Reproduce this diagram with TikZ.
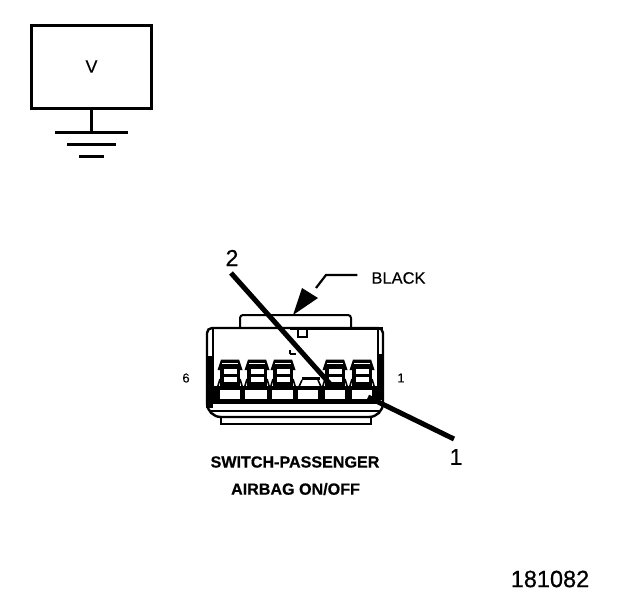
\documentclass[tikz,border=0pt]{standalone}
\usepackage{fontspec}
\setmainfont{Liberation Sans}[FakeBold=0.6]
\newfontfamily\plainbold{Liberation Sans}[FakeBold=0.25]
\newcommand{\fs}[1]{\fontsize{#1}{#1}\selectfont}
\tikzset{
  px/.style={x=1pt,y=-1pt},
  lbl/.style={inner sep=0pt,outer sep=0pt,anchor=center},
  thin line/.style={line width=2pt,line join=miter},
  med line/.style={line width=2.4pt},
  leader/.style={line width=5pt},
}
\begin{document}
\begin{tikzpicture}[px]
\useasboundingbox[fill=white] (0,0) rectangle (624,600);
% voltmeter box with ground
\node[draw,line width=3pt,minimum width=120pt,minimum height=83pt,inner sep=0pt,font=\plainbold\fs{18}] (vbox) at (91.5,66.5) {V};
\coordinate (g1) at (91.5,132.5);
\draw[line width=2.8pt] (vbox.south) -- (g1);
\draw[line width=2.4pt] (55,132.5) -- (128,132.5);
\draw[line width=2.4pt] (67,144.5) -- (116,144.5);
\draw[line width=2.4pt] (79,156.5) -- (104,156.5);
% connector: top tab
\draw[thin line,rounded corners=3pt] (240,328) -- (240,315) -- (351,315) -- (351,328);
% connector: lower tab
\draw[thin line] (221,417) -- (221,423.5) -- (371,423.5) -- (371,417);
% connector: body
\draw[med line,rounded corners=5pt] (207,370) -- (207,328) -- (383,328) -- (383,370);
\draw[med line,rounded corners=14pt] (207,370) -- (207,417) -- (383,417) -- (383,370);
\draw[line width=2pt] (213,329) -- (213,404);
\draw[line width=2pt] (378,329) -- (378,404);
\draw[line width=2pt] (210,410.5) -- (380,410.5);
\fill (205.5,356) rectangle (213,408);
\fill (378,354) rectangle (384,400);
\fill (290,326.5) rectangle (383,330);
% pin window
\draw[line width=2.2pt] (298,329) -- (298,337) -- (307,337) -- (307,329);
% upper contacts
\foreach \c in {230,257,283,335,362}{
  \fill (\c-12.5,370) -- (\c-9,359.5) -- (\c+9,359.5) -- (\c+12.5,370) -- cycle;
  \fill[white] (\c-8,362.5) rectangle (\c+8,365);
  \fill (\c-10,364) rectangle (\c+10,387);
  \fill[white] (\c-6.5,368.5) rectangle (\c+6.5,373.5);
  \fill[white] (\c-6.5,377) rectangle (\c+6.5,381.5);
  \draw[line width=1.6pt] (\c-13,389) -- (\c-10,379);
  \draw[line width=1.6pt] (\c+13,389) -- (\c+10,379);
}
% partial middle contact
\fill (302,376.5) rectangle (320,380);
\draw[line width=2pt] (290,354) -- (296,354) (290,354) -- (290,350);
\draw[line width=1.6pt] (298,389) -- (302,380);
\draw[line width=1.6pt] (322,389) -- (318,380);
% lower row
\fill (208,386) rectangle (378,403.5);
\foreach \a/\b in {220/240,245/267,272/293,298/318,325/345,352/372}{
  \fill[white] (\a,389.5) rectangle (\b,398.5);
}
% BLACK callout
\node[lbl,font=\plainbold\fs{16.5}] (black) at (398.5,278) {BLACK};
\coordinate (bk1) at (326,275);
\coordinate (bk2) at (316,288);
\coordinate (bktip) at (293,315);
\draw[line width=2.2pt] (black.west) ++(-14,-3) -- (bk1) -- (bk2);
\fill (bktip) -- (302,288) -- (318,298) -- cycle;
% numbered leaders
\node[lbl,font=\fs{23}] (n2) at (232,258) {2};
\node[lbl,font=\fs{23}] (n1) at (456,457) {1};
\coordinate (e2) at (331,385);
\coordinate (e1) at (368,397);
\draw[leader] (231,273) -- (e2);
\draw[leader] (454,439) -- (e1);
% pin numbers
\node[lbl,font=\plainbold\fs{13}] (p6) at (186,378) {6};
\node[lbl,font=\plainbold\fs{13}] (p1) at (401,378) {1};
% captions
\node[lbl,font=\fs{16.1}\bfseries] (cap1) at (295,462) {SWITCH-PASSENGER};
\node[lbl,font=\fs{16.1}\bfseries] (cap2) at (295.5,489) {AIRBAG ON/OFF};
\node[lbl,font=\fs{23.5}] (num) at (550,579) {181082};
\end{tikzpicture}
\end{document}
